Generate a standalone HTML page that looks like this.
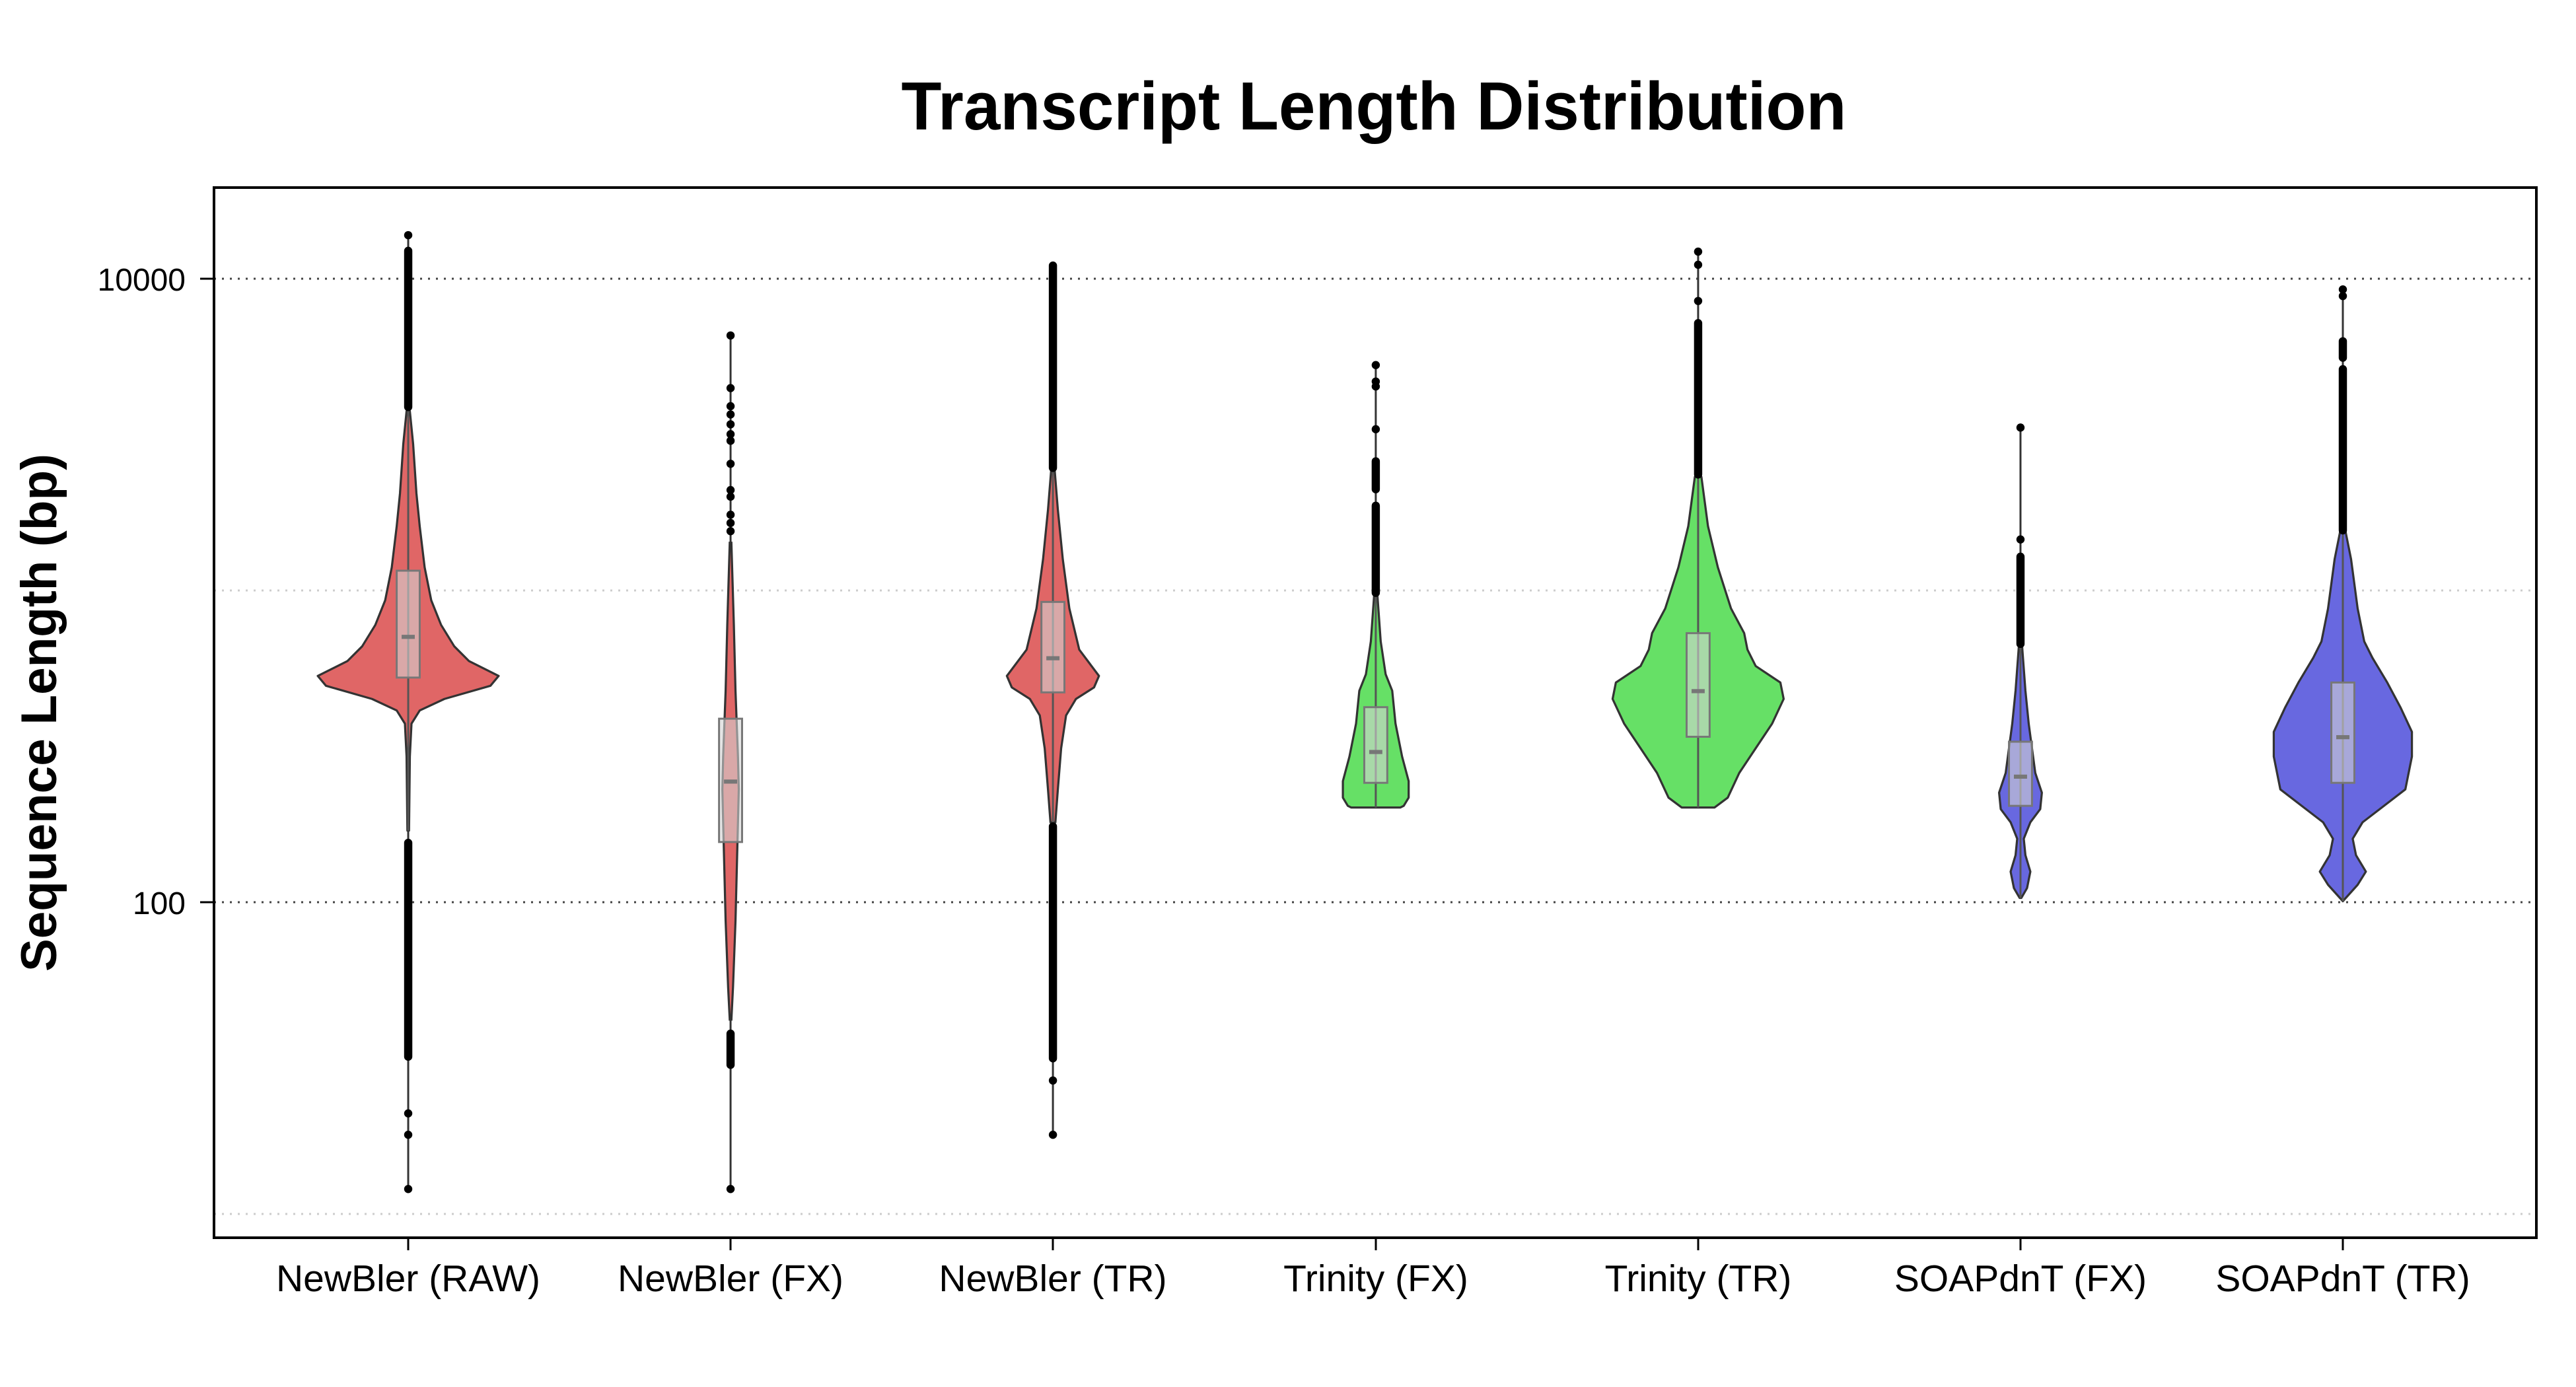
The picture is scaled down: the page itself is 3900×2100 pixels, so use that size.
<!DOCTYPE html>
<html><head><meta charset="utf-8"><style>html,body{margin:0;padding:0;background:#fff}svg{display:block}</style></head>
<body>
<svg xmlns="http://www.w3.org/2000/svg" width="3900" height="2100" viewBox="0 0 3900 2100">
<rect width="3900" height="2100" fill="#fff"/>
<text x="2080" y="196" font-family="Liberation Sans, sans-serif" font-weight="bold" font-size="103" text-anchor="middle" textLength="1431" lengthAdjust="spacingAndGlyphs">Transcript Length Distribution</text>
<text transform="translate(85,1079) rotate(-90)" font-family="Liberation Sans, sans-serif" font-weight="bold" font-size="76" text-anchor="middle" textLength="784" lengthAdjust="spacingAndGlyphs">Sequence Length (bp)</text>
<g stroke-width="3" stroke-dasharray="3 9">
<line x1="324" y1="422" x2="3840" y2="422" stroke="#444"/>
<line x1="324" y1="1366" x2="3840" y2="1366" stroke="#444"/>
<line x1="324" y1="894" x2="3840" y2="894" stroke="#ccc"/>
<line x1="324" y1="1838" x2="3840" y2="1838" stroke="#ccc"/>
</g>
<rect x="324" y="284" width="3516" height="1590" fill="none" stroke="#000" stroke-width="4"/>
<g stroke="#000" stroke-width="3">
<line x1="303" y1="422" x2="324" y2="422"/><line x1="303" y1="1366" x2="324" y2="1366"/>
<line x1="618" y1="1874" x2="618" y2="1893"/><line x1="1106" y1="1874" x2="1106" y2="1893"/><line x1="1594" y1="1874" x2="1594" y2="1893"/><line x1="2083" y1="1874" x2="2083" y2="1893"/><line x1="2571" y1="1874" x2="2571" y2="1893"/><line x1="3059" y1="1874" x2="3059" y2="1893"/><line x1="3547" y1="1874" x2="3547" y2="1893"/>
</g>
<g font-family="Liberation Sans, sans-serif" font-size="48" text-anchor="end">
<text x="281" y="440">10000</text><text x="281" y="1384">100</text>
</g>
<g font-family="Liberation Sans, sans-serif" font-size="57" text-anchor="middle">
<text x="618" y="1955">NewBler (RAW)</text><text x="1106" y="1955">NewBler (FX)</text><text x="1594" y="1955">NewBler (TR)</text><text x="2083" y="1955">Trinity (FX)</text><text x="2571" y="1955">Trinity (TR)</text><text x="3059" y="1955">SOAPdnT (FX)</text><text x="3547" y="1955">SOAPdnT (TR)</text>
</g>
<g transform="scale(2.49)">
<!-- V1 -->
<g transform="translate(248.2,0)">
<line x1="0" y1="143" x2="0" y2="723" stroke="#333" stroke-width="1.2"/>
<path d="M0,250 L1,250 3,270 5,300 7,320 10,345 14,365 20,380 28,393 37,402 55,411 50,417 22,425 7,432 2,440 1,460 0.5,505 -0.5,505 -1,460 -2,440 -7,432 -22,425 -50,417 -55,411 -37,402 -28,393 -20,380 -14,365 -10,345 -7,320 -5,300 -3,270 -1,250Z" fill="#e06666" stroke="#333" stroke-width="1.3" stroke-linejoin="round"/>
<line x1="0" y1="250" x2="0" y2="505" stroke="#555" stroke-width="1.2"/>
<rect x="-7" y="347" width="14" height="65" fill="#d3d3d3" fill-opacity="0.6" stroke="#777" stroke-width="1.2"/>
<rect x="-4" y="386" width="8" height="2.5" fill="#777"/>
<g fill="#000"><rect x="-2.5" y="150" width="5" height="100" rx="2.5"/><rect x="-2.5" y="510" width="5" height="135" rx="2.5"/>
<circle cx="0" cy="143" r="2.5"/><circle cx="0" cy="677" r="2.5"/><circle cx="0" cy="690" r="2.5"/><circle cx="0" cy="723" r="2.5"/></g>
</g>
<!-- V2 -->
<g transform="translate(444.2,0)">
<line x1="0" y1="204" x2="0" y2="723" stroke="#333" stroke-width="1.2"/>
<path d="M0,330 L0.5,330 2,380 3,420 4.5,460 5,480 4,520 3,560 1.5,600 0.5,620 -0.5,620 -1.5,600 -3,560 -4,520 -5,480 -4.5,460 -3,420 -2,380 -0.5,330Z" fill="#e06666" stroke="#333" stroke-width="1.3"/>
<rect x="-7" y="437" width="14" height="75" fill="#d3d3d3" fill-opacity="0.6" stroke="#777" stroke-width="1.2"/>
<rect x="-4" y="474" width="8" height="2.5" fill="#777"/>
<g fill="#000"><circle cx="0" cy="204" r="2.5"/><circle cx="0" cy="236" r="2.5"/><circle cx="0" cy="247" r="2.5"/><circle cx="0" cy="252" r="2.5"/><circle cx="0" cy="258" r="2.5"/><circle cx="0" cy="264" r="2.5"/><circle cx="0" cy="268" r="2.5"/><circle cx="0" cy="282" r="2.5"/><circle cx="0" cy="298" r="2.5"/><circle cx="0" cy="302" r="2.5"/><circle cx="0" cy="313" r="2.5"/><circle cx="0" cy="318" r="2.5"/><circle cx="0" cy="323" r="2.5"/>
<rect x="-2.5" y="626" width="5" height="24" rx="2.5"/><circle cx="0" cy="723" r="2.5"/></g>
</g>
<!-- V3 -->
<g transform="translate(640.2,0)">
<line x1="0" y1="160" x2="0" y2="690" stroke="#333" stroke-width="1.2"/>
<path d="M0,285 L1,285 3,310 6,340 10,370 16,395 28,411 25,418 14,425 8,435 5,455 3,480 1.5,500 -1.5,500 -3,480 -5,455 -8,435 -14,425 -25,418 -28,411 -16,395 -10,370 -6,340 -3,310 -1,285Z" fill="#e06666" stroke="#333" stroke-width="1.3" stroke-linejoin="round"/>
<line x1="0" y1="285" x2="0" y2="500" stroke="#555" stroke-width="1.2"/>
<rect x="-7" y="366" width="14" height="55" fill="#d3d3d3" fill-opacity="0.6" stroke="#777" stroke-width="1.2"/>
<rect x="-4" y="399" width="8" height="2.5" fill="#777"/>
<g fill="#000"><rect x="-2.5" y="159" width="5" height="128" rx="2.5"/><rect x="-2.5" y="500" width="5" height="146" rx="2.5"/><circle cx="0" cy="657" r="2.5"/><circle cx="0" cy="690" r="2.5"/></g>
</g>
<!-- V4 -->
<g transform="translate(836.5,0)">
<line x1="0" y1="222" x2="0" y2="362" stroke="#333" stroke-width="1.2"/>
<path d="M0,362 L1,362 3,390 6,410 10,420 12,440 16,460 20,475 20,485 17,490 15,491 -15,491 -17,490 -20,485 -20,475 -16,460 -12,440 -10,420 -6,410 -3,390 -1,362Z" fill="#66e066" stroke="#333" stroke-width="1.3" stroke-linejoin="round"/>
<line x1="0" y1="362" x2="0" y2="491" stroke="#555" stroke-width="1.2"/>
<rect x="-7" y="430" width="14" height="46" fill="#d3d3d3" fill-opacity="0.6" stroke="#777" stroke-width="1.2"/>
<rect x="-4" y="456" width="8" height="2.5" fill="#777"/>
<g fill="#000"><circle cx="0" cy="222" r="2.5"/><circle cx="0" cy="232" r="2.5"/><circle cx="0" cy="235" r="2.5"/><circle cx="0" cy="261" r="2.5"/><rect x="-2.5" y="278" width="5" height="22" rx="2.5"/><rect x="-2.5" y="305" width="5" height="58" rx="2.5"/></g>
</g>
<!-- V5 -->
<g transform="translate(1032.5,0)">
<line x1="0" y1="153" x2="0" y2="290" stroke="#333" stroke-width="1.2"/>
<path d="M0,290 L2,290 6,320 12,345 20,370 28,385 30,395 35,405 50,415 52,425 45,440 35,455 25,470 18,485 10,491 -10,491 -18,485 -25,470 -35,455 -45,440 -52,425 -50,415 -35,405 -30,395 -28,385 -20,370 -12,345 -6,320 -2,290Z" fill="#66e066" stroke="#333" stroke-width="1.3" stroke-linejoin="round"/>
<line x1="0" y1="290" x2="0" y2="491" stroke="#555" stroke-width="1.2"/>
<rect x="-7" y="385" width="14" height="63" fill="#d3d3d3" fill-opacity="0.6" stroke="#777" stroke-width="1.2"/>
<rect x="-4" y="419" width="8" height="2.5" fill="#777"/>
<g fill="#000"><circle cx="0" cy="153" r="2.5"/><circle cx="0" cy="161" r="2.5"/><circle cx="0" cy="183" r="2.5"/><rect x="-2.5" y="194" width="5" height="97" rx="2.5"/></g>
</g>
<!-- V6 -->
<g transform="translate(1228.5,0)">
<line x1="0" y1="260" x2="0" y2="393" stroke="#333" stroke-width="1.2"/>
<path d="M0,393 L1,393 3,420 5,440 7,455 9,470 13,482 12,492 6,500 2,510 3,520 6,530 4,540 0.5,546 -0.5,546 -4,540 -6,530 -3,520 -2,510 -6,500 -12,492 -13,482 -9,470 -7,455 -5,440 -3,420 -1,393Z" fill="#6868e0" stroke="#333" stroke-width="1.3" stroke-linejoin="round"/>
<line x1="0" y1="393" x2="0" y2="546" stroke="#555" stroke-width="1.2"/>
<rect x="-7" y="451" width="14" height="39" fill="#d3d3d3" fill-opacity="0.6" stroke="#777" stroke-width="1.2"/>
<rect x="-4" y="471" width="8" height="2.5" fill="#777"/>
<g fill="#000"><circle cx="0" cy="260" r="2.5"/><circle cx="0" cy="328" r="2.5"/><rect x="-2.5" y="336" width="5" height="58" rx="2.5"/></g>
</g>
<!-- V7 -->
<g transform="translate(1424.5,0)">
<line x1="0" y1="176" x2="0" y2="324" stroke="#333" stroke-width="1.2"/>
<path d="M0,320 L1,320 5,340 9,370 13,390 18,400 27,415 35,430 42,445 42,460 38,480 25,490 12,500 6,510 8,520 14,530 9,538 0,548 -9,538 -14,530 -8,520 -6,510 -12,500 -25,490 -38,480 -42,460 -42,445 -35,430 -27,415 -18,400 -13,390 -9,370 -5,340 -1,320Z" fill="#6868e0" stroke="#333" stroke-width="1.3" stroke-linejoin="round"/>
<line x1="0" y1="320" x2="0" y2="548" stroke="#555" stroke-width="1.2"/>
<rect x="-7" y="415" width="14" height="61" fill="#d3d3d3" fill-opacity="0.6" stroke="#777" stroke-width="1.2"/>
<rect x="-4" y="447" width="8" height="2.5" fill="#777"/>
<g fill="#000"><circle cx="0" cy="176" r="2.5"/><circle cx="0" cy="180" r="2.5"/><rect x="-2.5" y="205" width="5" height="15" rx="2.5"/><rect x="-2.5" y="222" width="5" height="103" rx="2.5"/></g>
</g>
</g>
</svg>
</body></html>
